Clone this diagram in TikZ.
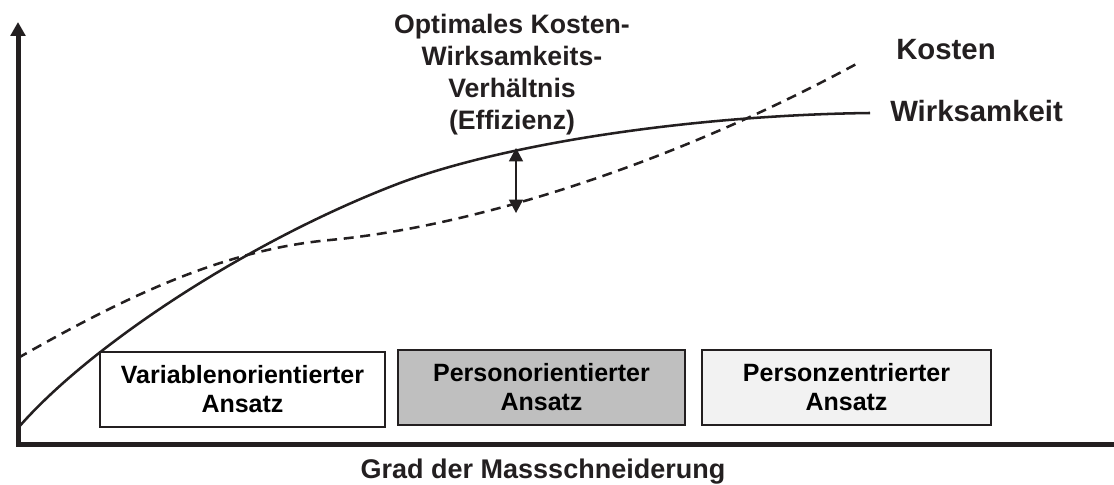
\documentclass[tikz,border=0pt]{standalone}
\usepackage{fontspec}
\setmainfont{Liberation Sans}
\usetikzlibrary{arrows.meta}

\definecolor{ink}{HTML}{231F20}
\definecolor{midgray}{HTML}{BFBFBF}
\definecolor{palegray}{HTML}{F2F2F2}

\begin{document}
\begin{tikzpicture}[x=0.75pt, y=-0.75pt,
  axis/.style={draw=ink, line width=3.75pt},
  curve/.style={draw=ink, line width=1.9pt},
  dashcurve/.style={curve, dash pattern=on 7.5pt off 5pt},
  approach/.style={draw=ink, line width=1.6pt, minimum width=#1, minimum height=56.25pt,
    inner sep=0pt, align=center,
    font=\bfseries\fontsize{18.75}{21.75}\selectfont},
  biglabel/.style={font=\bfseries\fontsize{22}{26}\selectfont, text=ink, inner sep=0pt},
  gap/.style={draw=ink, line width=1.1pt, {Triangle[width=10.5pt,length=10pt]}-{Triangle[width=10.5pt,length=10pt]}}
]
\useasboundingbox (0,0) rectangle (1114,485);

% axes
\coordinate (origin) at (18,444);
\coordinate (ytip) at (18,22);
\coordinate (xtip) at (1128,444);
\draw[axis, {Triangle[width=11pt,length=10.5pt]}-{Triangle[width=11pt,length=10.5pt]}]
  (ytip) -- (origin) -- (xtip);

% approach boxes
\node[approach=213.75pt, fill=white] (var) at (242.5,389.5)
  {Variablenorientierter\\Ansatz};
\node[approach=215.25pt, fill=midgray] (pers) at (541.5,387.5)
  {Personorientierter\\Ansatz};
\node[approach=216.75pt, fill=palegray] (zent) at (846.5,387.5)
  {Personzentrierter\\Ansatz};

% effectiveness curve
\coordinate (w0) at (18,428);
\coordinate (w1) at (400,183);
\coordinate (w2) at (870,113);
\draw[curve] (w0) .. controls (90,345) and (250,240) .. (w1)
                  .. controls (510,142) and (700,115) .. (w2);
% cost curve
\coordinate (k0) at (18,358);
\coordinate (k1) at (330,240);
\coordinate (k2) at (860,62);
\draw[dashcurve] (k0) .. controls (120,300) and (220,250) .. (k1)
                      .. controls (480,226) and (680,160) .. (k2);

% efficiency gap
\coordinate (effTop) at (516,148);
\coordinate (effBot) at (516,213);
\draw[gap] (effTop) -- (effBot);

% labels
\node[font=\bfseries\fontsize{20}{24}\selectfont, text=ink, align=center,
  anchor=north, inner sep=0pt] (optimum) at (512,13.5)
  {Optimales Kosten-\\Wirksamkeits-\\Verhältnis\\(Effizienz)};
\node[biglabel, anchor=base west] (kosten) at (896,60) {Kosten};
\node[biglabel, anchor=base west] (wirk) at (890,122) {Wirksamkeit};
\node[font=\bfseries\fontsize{20.25}{24}\selectfont, text=ink, anchor=base,
  inner sep=0pt] (grad) at (543,478) {Grad der Massschneiderung};
\end{tikzpicture}
\end{document}
